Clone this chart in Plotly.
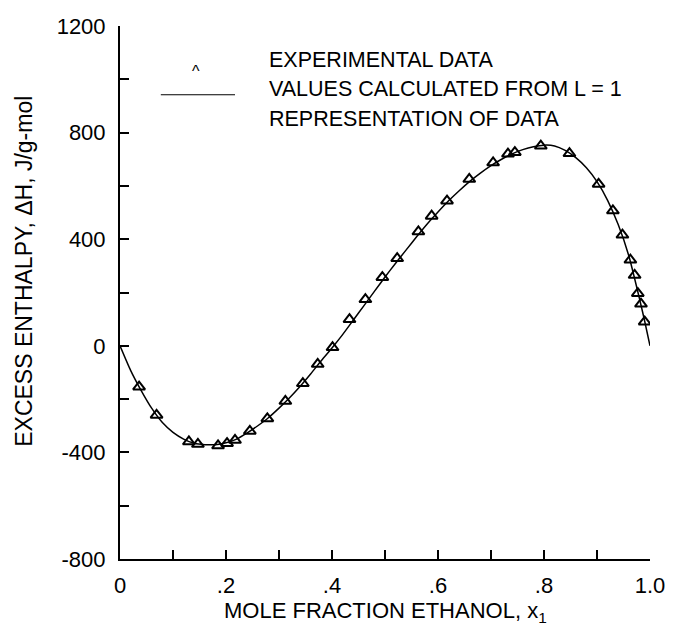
import plotly.graph_objects as go

exp_x = [0.036, 0.069, 0.130, 0.147, 0.185, 0.202, 0.217, 0.245, 0.278, 0.312,
         0.345, 0.373, 0.401, 0.433, 0.463, 0.495, 0.523, 0.563, 0.588, 0.617,
         0.659, 0.704, 0.732, 0.745, 0.794, 0.848, 0.903, 0.930, 0.948, 0.963,
         0.971, 0.977, 0.983, 0.990]
exp_h = [-154, -260, -360, -369, -375, -366, -354, -320, -273, -208,
         -141, -69, -6, 99, 174, 257, 328, 428, 487, 544,
         625, 687, 720, 726, 750, 722, 607, 507, 416, 322,
         265, 197, 157, 90]

# Calculated curve (L = 1 representation)
calc_x = [0.00, 0.02, 0.04, 0.06, 0.08, 0.10, 0.12, 0.14, 0.16, 0.18, 0.20,
          0.22, 0.24, 0.26, 0.28, 0.30, 0.32, 0.34, 0.36, 0.38, 0.40,
          0.42, 0.44, 0.46, 0.48, 0.50, 0.52, 0.54, 0.56, 0.58, 0.60,
          0.62, 0.64, 0.66, 0.68, 0.70, 0.72, 0.74, 0.76, 0.78, 0.80,
          0.82, 0.84, 0.86, 0.88, 0.90, 0.92, 0.94, 0.96, 0.98, 0.99, 1.00]
calc_h = [0, -92, -168, -235, -288, -325, -350, -366, -371, -371, -364,
          -350, -327, -300, -270, -234, -195, -152, -105, -55, -8,
          42, 96, 150, 204, 258, 310, 360, 410, 458, 502,
          544, 582, 617, 648, 676, 700, 720, 736, 747, 753,
          750, 733, 706, 668, 616, 546, 455, 338, 178, 92, 0]

x_tickvals = [0.0, 0.2, 0.4, 0.6, 0.8, 1.0]
x_ticktext = ["0", ".2", ".4", ".6", ".8", "1.0"]
y_tickvals = [-800, -400, 0, 400, 800, 1200]
y_ticktext = ["-800", "-400", "0", "400", "800", "1200"]

legend_lines = ["EXPERIMENTAL DATA", "VALUES CALCULATED FROM L = 1", "REPRESENTATION OF DATA"]

FONT = "Liberation Sans, Arial, sans-serif"

fig = go.Figure()
fig.add_trace(go.Scatter(x=calc_x, y=calc_h, mode="lines",
                         line=dict(color="black", width=1.5, shape="spline", smoothing=0.6),
                         showlegend=False, hoverinfo="skip"))
fig.add_trace(go.Scatter(x=exp_x, y=exp_h, mode="markers",
                         marker=dict(symbol="triangle-up-open", size=10.5, color="black",
                                     line=dict(width=2, color="black")),
                         showlegend=False))

annotations = []
for i, t in enumerate(legend_lines):
    annotations.append(dict(x=0.277, y=1073 - 111 * i, xref="x", yref="y", text=t,
                            showarrow=False, xanchor="left", yanchor="middle",
                            font=dict(family=FONT, size=21.5, color="black")))
annotations.append(dict(x=0.143, y=1030, xref="x", yref="y", text="^", showarrow=False,
                        xanchor="center", yanchor="middle",
                        font=dict(family=FONT, size=16, color="black")))
annotations.append(dict(x=0.5, y=-0.10, xref="paper", yref="paper",
                        text="MOLE FRACTION ETHANOL, x<sub>1</sub>", showarrow=False,
                        xanchor="center", yanchor="middle",
                        font=dict(family=FONT, size=22, color="black")))
annotations.append(dict(x=-0.18, y=280, xref="paper", yref="y",
                        text="EXCESS ENTHALPY, \u0394H, J/g-mol", showarrow=False,
                        textangle=-90, xanchor="center", yanchor="middle",
                        font=dict(family=FONT, size=23, color="black")))

fig.update_layout(
    width=677, height=630,
    margin=dict(l=120, r=23, t=26, b=71),
    paper_bgcolor="white", plot_bgcolor="white",
    font=dict(family=FONT, color="black"),
    annotations=annotations,
    shapes=[dict(type="line", xref="x", yref="y", x0=0.077, x1=0.217, y0=942, y1=942,
                 line=dict(color="black", width=1.2))],
)
fig.update_xaxes(range=[0, 1.0], tickvals=x_tickvals, ticktext=x_ticktext,
                 ticks="inside", ticklen=9, tickwidth=1.5, tickcolor="black",
                 minor=dict(dtick=0.1, ticks="inside", ticklen=9, tickwidth=1.5,
                            tickcolor="black", showgrid=False),
                 showline=True, linecolor="black", linewidth=2, showgrid=False,
                 zeroline=False, tickfont=dict(family=FONT, size=22, color="black"),
                 ticklabelstandoff=6)
fig.update_yaxes(range=[-800, 1200], tickvals=y_tickvals, ticktext=y_ticktext,
                 ticks="inside", ticklen=9, tickwidth=1.5, tickcolor="black",
                 minor=dict(dtick=200, ticks="inside", ticklen=9, tickwidth=1.5,
                            tickcolor="black", showgrid=False),
                 showline=True, linecolor="black", linewidth=2, showgrid=False,
                 zeroline=False, tickfont=dict(family=FONT, size=22, color="black"),
                 ticklabelstandoff=8)

fig.write_html("out.html", config={"displayModeBar": False},
               post_script="document.body.style.margin='0';document.body.style.overflow='hidden';")
